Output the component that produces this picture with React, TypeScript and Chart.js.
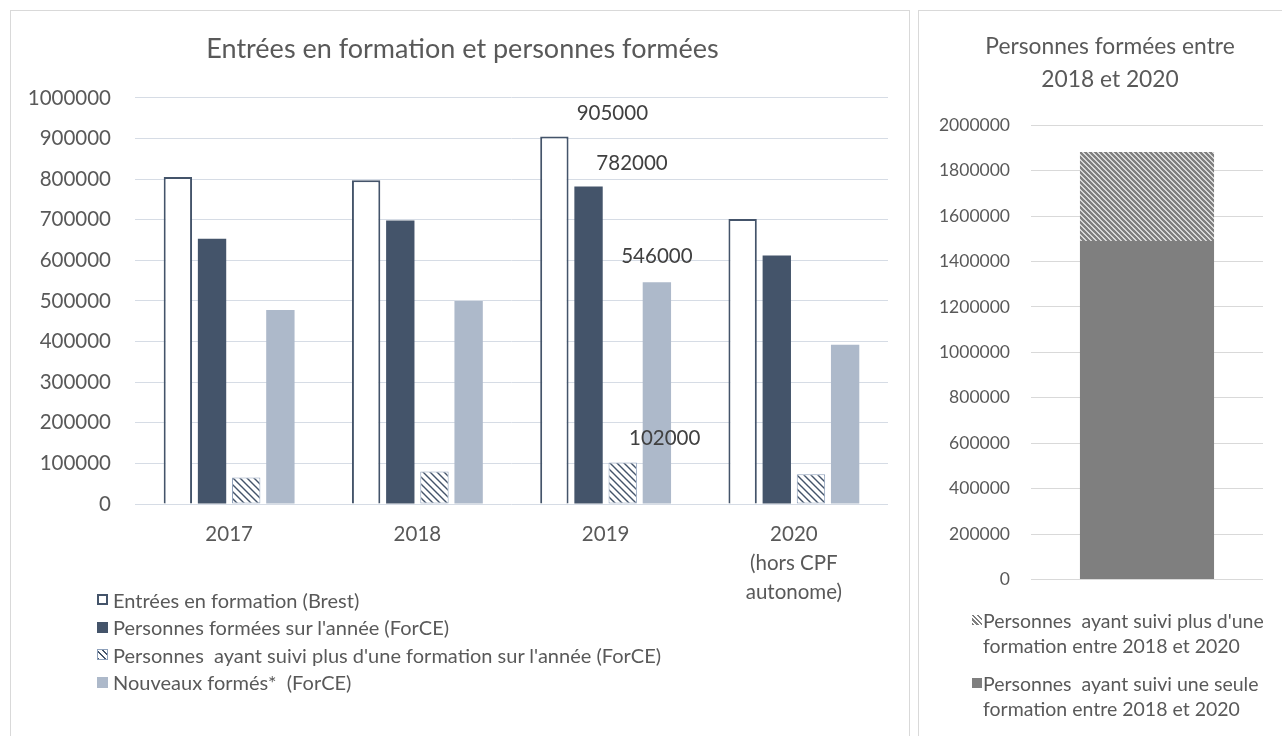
import React, { useEffect, useRef } from "react";
import { Chart, registerables } from "chart.js";

Chart.register(...registerables);

const FONT = 'Lato, "Open Sans", sans-serif';

// ---- Left chart data ----
const leftTitle = "Entrées en formation et personnes formées";
const categories = [["2017"], ["2018"], ["2019"], ["2020", "(hors CPF", "autonome)"]];
const seriesNames = [
  "Entrées en formation (Brest)",
  "Personnes formées sur l'année (ForCE)",
  "Personnes  ayant suivi plus d'une formation sur l'année (ForCE)",
  "Nouveaux formés*  (ForCE)",
];
const entrees = [805000, 797000, 905000, 702000];
const formees = [653000, 698000, 782000, 612000];
const plusUne = [65000, 80000, 102000, 73000];
const nouveaux = [478000, 500000, 546000, 392000];
const leftYMax = 1000000;
const leftYStep = 100000;
const labelledIndex = 2; // 2019 values shown as labels

// ---- Right chart data ----
const rightTitle = ["Personnes formées entre", "2018 et 2020"];
const periodCategories = [""];
const rightNames = [
  ["Personnes  ayant suivi plus d'une", "formation entre 2018 et 2020"],
  ["Personnes  ayant suivi une seule", "formation entre 2018 et 2020"],
];
const plusUneFormation = [392000];
const seuleFormation = [1490000];
const rightYMax = 2000000;
const rightYStep = 200000;

// ---- styles ----
const TEXT = "#595959";
const NAVY = "#44546A";
const LIGHT = "#ADB9CA";
const GREY = "#7F7F7F";
const labelOffsets: [number, number][] = [
  [58, -23],
  [43.5, -23],
  [42, -24.5],
  [0, -25.5],
];

function makeHatch(line: string, size: number, width: number) {
  const c = document.createElement("canvas");
  c.width = size;
  c.height = size;
  const g = c.getContext("2d")!;
  g.fillStyle = "#FFFFFF";
  g.fillRect(0, 0, size, size);
  g.strokeStyle = line;
  g.lineWidth = width;
  g.beginPath();
  g.moveTo(-1, -1);
  g.lineTo(size + 1, size + 1);
  g.moveTo(-2, size - 2);
  g.lineTo(2, size + 2);
  g.moveTo(size - 2, -2);
  g.lineTo(size + 2, 2);
  g.stroke();
  return g.createPattern(c, "repeat")!;
}

const valueLabels = {
  id: "valueLabels",
  afterDatasetsDraw(chart: any) {
    const ctx = chart.ctx;
    ctx.save();
    ctx.font = `20.5px ${FONT}`;
    ctx.fillStyle = "#404040";
    ctx.textAlign = "center";
    ctx.textBaseline = "middle";
    chart.data.datasets.forEach((ds: any, di: number) => {
      const meta = chart.getDatasetMeta(di);
      const off = labelOffsets[di];
      (ds.data as number[]).forEach((v, i) => {
        if (i !== labelledIndex) return;
        const el = meta.data[i];
        ctx.fillText(String(v), el.x + off[0], el.y + off[1]);
      });
    });
    ctx.restore();
  },
};

const hatchCss = (c: string, a: number, b: number) =>
  `repeating-linear-gradient(45deg, ${c} 0px, ${c} ${a}px, #fff ${a}px, #fff ${b}px)`;

export default function App() {
  const leftRef = useRef<HTMLCanvasElement>(null);
  const rightRef = useRef<HTMLCanvasElement>(null);

  useEffect(() => {
    const hatchLeft = makeHatch(NAVY, 7, 1.4);
    const hatchRight = makeHatch(GREY, 5, 2.6);
    const tickFontL = { family: FONT, size: 20.5, lineHeight: 1.415 };
    const tickFontR = { family: FONT, size: 17.5 };

    const left = new Chart(leftRef.current!, {
      type: "bar",
      data: {
        labels: categories,
        datasets: [
          { label: seriesNames[0], data: entrees, backgroundColor: "#FFFFFF", borderColor: NAVY, borderWidth: 2 },
          { label: seriesNames[1], data: formees, backgroundColor: NAVY },
          { label: seriesNames[2], data: plusUne, backgroundColor: hatchLeft, borderColor: "#8EA0BA", borderWidth: 1, borderSkipped: false },
          { label: seriesNames[3], data: nouveaux, backgroundColor: LIGHT },
        ],
      },
      options: {
        responsive: false,
        animation: false,
        datasets: { bar: { categoryPercentage: 0.726, barPercentage: 0.83 } },
        layout: { padding: { left: 0, right: 0, top: 0, bottom: 6 } },
        plugins: {
          legend: { display: false },
          tooltip: { enabled: false },
          title: {
            display: true,
            text: leftTitle,
            color: TEXT,
            font: { family: FONT, size: 27, weight: "normal", lineHeight: 1.2 },
            padding: { top: 22.5, bottom: 32 },
          },
        },
        scales: {
          x: {
            grid: { display: false, drawTicks: false },
            border: { display: false },
            ticks: { color: TEXT, font: tickFontL, padding: 16, maxRotation: 0, autoSkip: false },
            afterFit: (s: any) => { s.height = 110; },
          },
          y: {
            min: 0,
            max: leftYMax,
            ticks: { stepSize: leftYStep, color: TEXT, font: tickFontL, padding: 24, callback: (v: any) => String(v) },
            grid: { color: "#D6DCE5", lineWidth: 1, drawTicks: false },
            border: { display: false },
            afterFit: (s: any) => { s.width = 124; },
          },
          yR: {
            position: "right",
            display: true,
            ticks: { display: false },
            grid: { display: false, drawTicks: false },
            border: { display: false },
            afterFit: (s: any) => { s.width = 26; },
          },
        },
      },
      plugins: [valueLabels],
    } as any);

    const right = new Chart(rightRef.current!, {
      type: "bar",
      data: {
        labels: periodCategories,
        datasets: [
          { label: rightNames[1].join(" "), data: seuleFormation, backgroundColor: GREY, yAxisID: "y" },
          { label: rightNames[0].join(" "), data: plusUneFormation, backgroundColor: hatchRight, yAxisID: "y" },
        ],
      },
      options: {
        responsive: false,
        animation: false,
        datasets: { bar: { categoryPercentage: 1, barPercentage: 0.578 } },
        layout: { padding: { left: 0, right: 0, top: 0, bottom: 22.5 } },
        plugins: {
          legend: { display: false },
          tooltip: { enabled: false },
          title: {
            display: true,
            text: rightTitle,
            color: TEXT,
            font: { family: FONT, size: 22.8, weight: "normal", lineHeight: 33 / 22.8 },
            padding: { top: 19.5, bottom: 28.8 },
          },
        },
        scales: {
          x: { display: false, stacked: true },
          y: {
            stacked: true,
            min: 0,
            max: rightYMax,
            ticks: { stepSize: rightYStep, color: TEXT, font: tickFontR, padding: 21, callback: (v: any) => String(v) },
            grid: { color: "#D9D9D9", lineWidth: 1, drawTicks: false },
            border: { display: false },
            afterFit: (s: any) => { s.width = 112; },
          },
          yR: {
            position: "right",
            display: true,
            ticks: { display: false },
            grid: { display: false, drawTicks: false },
            border: { display: false },
            afterFit: (s: any) => { s.width = 38; },
          },
        },
      },
    } as any);

    return () => {
      left.destroy();
      right.destroy();
    };
  }, []);

  const legendText: React.CSSProperties = { fontSize: 20, color: TEXT, whiteSpace: "pre", fontFamily: FONT };
  const leftSwatches: React.CSSProperties[] = [
    { background: "#fff", border: `2px solid ${NAVY}`, boxSizing: "border-box" },
    { background: NAVY },
    { background: hatchCss(NAVY, 1.2, 4.5), border: "1px solid #8EA0BA", boxSizing: "border-box" },
    { background: LIGHT },
  ];
  const rightSwatches: React.CSSProperties[] = [
    { background: hatchCss(GREY, 1.6, 3.4) },
    { background: GREY },
  ];

  return (
    <div style={{ position: "absolute", left: 0, top: 0, width: 1282, height: 736, overflow: "hidden", background: "#fff", fontFamily: FONT }}>
      <div style={{ position: "absolute", left: 10, top: 10, width: 898, height: 760, border: "1px solid #D9D9D9" }} />
      <div style={{ position: "absolute", left: 918, top: 10, width: 400, height: 760, border: "1px solid #D9D9D9" }} />
      <canvas ref={leftRef} width={903} height={609} style={{ position: "absolute", left: 11, top: 11, width: 903, height: 609 }} />
      <canvas ref={rightRef} width={382} height={600} style={{ position: "absolute", left: 919, top: 11, width: 382, height: 600 }} />
      <div style={{ position: "absolute", left: 97, top: 586 }}>
        {seriesNames.map((n, i) => (
          <div key={i} style={{ display: "flex", alignItems: "center", height: 27.5 }}>
            <div style={{ width: 11, height: 11, marginRight: 5, ...leftSwatches[i] }} />
            <span style={legendText}>{n}</span>
          </div>
        ))}
      </div>
      <div style={{ position: "absolute", left: 972, top: 607.5 }}>
        {rightNames.map((lines, i) => (
          <div key={i} style={{ display: "flex", alignItems: "flex-start", marginBottom: 13 }}>
            <div style={{ width: 10, height: 10, marginRight: 1, marginTop: 7.5, ...rightSwatches[i] }} />
            <div style={{ ...legendText, fontSize: 19.5, lineHeight: "25px" }}>
              {lines.map((l, j) => (
                <div key={j}>{l}</div>
              ))}
            </div>
          </div>
        ))}
      </div>
    </div>
  );
}
